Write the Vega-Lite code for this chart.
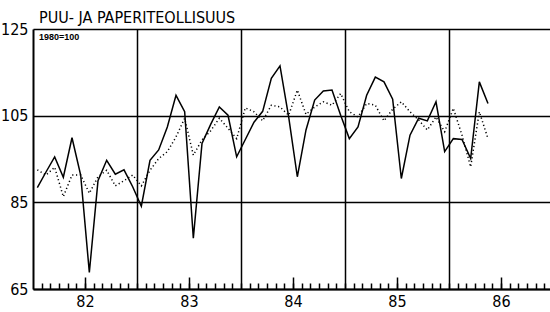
{
  "$schema": "https://vega.github.io/schema/vega-lite/v6.json",
  "autosize": "none",
  "width": 520,
  "height": 260,
  "padding": {"left": 33, "top": 29, "right": 0, "bottom": 23},
  "background": "white",
  "view": {"stroke": null},
  "config": {
    "font": "Liberation Sans Narrow, DejaVu Sans Condensed, sans-serif",
    "axis": {"labelFont": "Liberation Sans Narrow, DejaVu Sans Condensed, sans-serif", "labelColor": "black", "domainColor": "black", "tickColor": "black", "gridColor": "black", "gridOpacity": 1}
  },
  "title": {
    "text": "PUU-  JA  PAPERITEOLLISUUS",
    "anchor": "start",
    "frame": "group",
    "offset": -5,
    "dx": 6,
    "fontSize": 16,
    "fontWeight": "normal",
    "color": "black",
    "font": "Liberation Sans Narrow, DejaVu Sans Condensed, sans-serif"
  },
  "datasets": {
    "solid": [
      {"m": 0.5, "v": 88.4}, {"m": 1.5, "v": 92.0}, {"m": 2.5, "v": 95.5}, {"m": 3.5, "v": 90.8},
      {"m": 4.5, "v": 99.9}, {"m": 5.5, "v": 91.3}, {"m": 6.5, "v": 68.8}, {"m": 7.5, "v": 90.0},
      {"m": 8.5, "v": 94.7}, {"m": 9.5, "v": 91.5}, {"m": 10.5, "v": 92.5}, {"m": 11.5, "v": 88.6},
      {"m": 12.5, "v": 84.1}, {"m": 13.5, "v": 94.7}, {"m": 14.5, "v": 97.1}, {"m": 15.5, "v": 102.4},
      {"m": 16.5, "v": 109.7}, {"m": 17.5, "v": 105.9}, {"m": 18.5, "v": 76.7}, {"m": 19.5, "v": 98.6},
      {"m": 20.5, "v": 103.0}, {"m": 21.5, "v": 107.0}, {"m": 22.5, "v": 105.1}, {"m": 23.5, "v": 95.5},
      {"m": 24.5, "v": 99.5}, {"m": 25.5, "v": 103.5}, {"m": 26.5, "v": 106.0}, {"m": 27.5, "v": 113.6},
      {"m": 28.5, "v": 116.5}, {"m": 29.5, "v": 104.7}, {"m": 30.5, "v": 90.9}, {"m": 31.5, "v": 101.7},
      {"m": 32.5, "v": 108.6}, {"m": 33.5, "v": 110.7}, {"m": 34.5, "v": 110.9}, {"m": 35.5, "v": 105.1},
      {"m": 36.5, "v": 99.7}, {"m": 37.5, "v": 102.4}, {"m": 38.5, "v": 109.7}, {"m": 39.5, "v": 113.9},
      {"m": 40.5, "v": 112.8}, {"m": 41.5, "v": 108.8}, {"m": 42.5, "v": 90.5}, {"m": 43.5, "v": 100.5},
      {"m": 44.5, "v": 104.4}, {"m": 45.5, "v": 103.8}, {"m": 46.5, "v": 108.2}, {"m": 47.5, "v": 96.7},
      {"m": 48.5, "v": 99.7}, {"m": 49.5, "v": 99.5}, {"m": 50.5, "v": 95.1}, {"m": 51.5, "v": 112.8},
      {"m": 52.5, "v": 107.8}
    ],
    "dotted": [
      {"m": 0.5, "v": 92.5}, {"m": 1.5, "v": 91.3}, {"m": 2.5, "v": 93.1}, {"m": 3.5, "v": 86.3},
      {"m": 4.5, "v": 91.3}, {"m": 5.5, "v": 91.3}, {"m": 6.5, "v": 87.1}, {"m": 7.5, "v": 90.9},
      {"m": 8.5, "v": 92.4}, {"m": 9.5, "v": 88.8}, {"m": 10.5, "v": 90.0}, {"m": 11.5, "v": 91.3},
      {"m": 12.5, "v": 88.8}, {"m": 13.5, "v": 92.4}, {"m": 14.5, "v": 95.1}, {"m": 15.5, "v": 96.7},
      {"m": 16.5, "v": 100.1}, {"m": 17.5, "v": 104.4}, {"m": 18.5, "v": 95.9}, {"m": 19.5, "v": 99.4},
      {"m": 20.5, "v": 101.5}, {"m": 21.5, "v": 104.4}, {"m": 22.5, "v": 102.1}, {"m": 23.5, "v": 99.7},
      {"m": 24.5, "v": 106.8}, {"m": 25.5, "v": 105.9}, {"m": 26.5, "v": 103.8}, {"m": 27.5, "v": 107.4},
      {"m": 28.5, "v": 107.0}, {"m": 29.5, "v": 105.1}, {"m": 30.5, "v": 110.9}, {"m": 31.5, "v": 105.3},
      {"m": 32.5, "v": 107.0}, {"m": 33.5, "v": 108.2}, {"m": 34.5, "v": 107.4}, {"m": 35.5, "v": 110.1},
      {"m": 36.5, "v": 105.9}, {"m": 37.5, "v": 104.7}, {"m": 38.5, "v": 107.8}, {"m": 39.5, "v": 107.4},
      {"m": 40.5, "v": 103.8}, {"m": 41.5, "v": 106.5}, {"m": 42.5, "v": 108.2}, {"m": 43.5, "v": 105.9},
      {"m": 44.5, "v": 104.0}, {"m": 45.5, "v": 101.7}, {"m": 46.5, "v": 104.7}, {"m": 47.5, "v": 101.3},
      {"m": 48.5, "v": 106.7}, {"m": 49.5, "v": 100.5}, {"m": 50.5, "v": 93.2}, {"m": 51.5, "v": 105.9},
      {"m": 52.5, "v": 99.7}
    ]
  },
  "resolve": {"axis": {"x": "independent", "y": "independent"}},
  "layer": [
    {
      "data": {"name": "solid"},
      "mark": {"type": "line", "color": "black", "strokeWidth": 1.5, "clip": true},
      "encoding": {
        "x": {
          "field": "m", "type": "quantitative",
          "scale": {"domain": [0, 60], "nice": false, "zero": false},
          "axis": {
            "orient": "bottom", "title": null, "labels": false, "grid": false,
            "values": [1,2,3,4,5,6,7,8,9,10,11,12,13,14,15,16,17,18,19,20,21,22,23,24,25,26,27,28,29,30,31,32,33,34,35,36,37,38,39,40,41,42,43,44,45,46,47,48,49,50,51,52,53,54,55,56,57,58,59],
            "tickSize": -6, "tickWidth": 1.5, "domainWidth": 2
          }
        },
        "y": {
          "field": "v", "type": "quantitative",
          "scale": {"domain": [65, 125], "nice": false, "zero": false},
          "axis": {
            "orient": "left", "title": null, "values": [65, 85, 105, 125],
            "ticks": false, "labelPadding": 5, "labelFontSize": 16,
            "grid": true, "gridWidth": 1.5, "domainWidth": 2
          }
        }
      }
    },
    {
      "data": {"name": "dotted"},
      "mark": {"type": "line", "color": "black", "strokeWidth": 1.5, "strokeDash": [1.2, 2.6], "clip": true},
      "encoding": {
        "x": {
          "field": "m", "type": "quantitative",
          "axis": {
            "orient": "bottom", "title": null, "grid": false, "domain": false,
            "values": [6, 18, 30, 42, 54],
            "labelExpr": "'' + (82 + floor(datum.value / 12))",
            "tickSize": -12, "tickWidth": 1.5, "labelPadding": 16, "labelFontSize": 16
          }
        },
        "y": {"field": "v", "type": "quantitative", "axis": null}
      }
    },
    {
      "data": {"values": [{"label": "1980=100"}]},
      "mark": {"type": "text", "align": "left", "baseline": "middle", "fontSize": 9, "fontWeight": "bold", "color": "black", "font": "Liberation Sans, DejaVu Sans, sans-serif"},
      "encoding": {
        "x": {
          "datum": 0.7, "type": "quantitative",
          "axis": {
            "orient": "bottom", "title": null, "labels": false, "ticks": false, "domain": false,
            "values": [12, 24, 36, 48], "grid": true, "gridWidth": 1.5
          }
        },
        "y": {"datum": 123.2, "type": "quantitative", "axis": null},
        "text": {"field": "label"}
      }
    }
  ]
}
